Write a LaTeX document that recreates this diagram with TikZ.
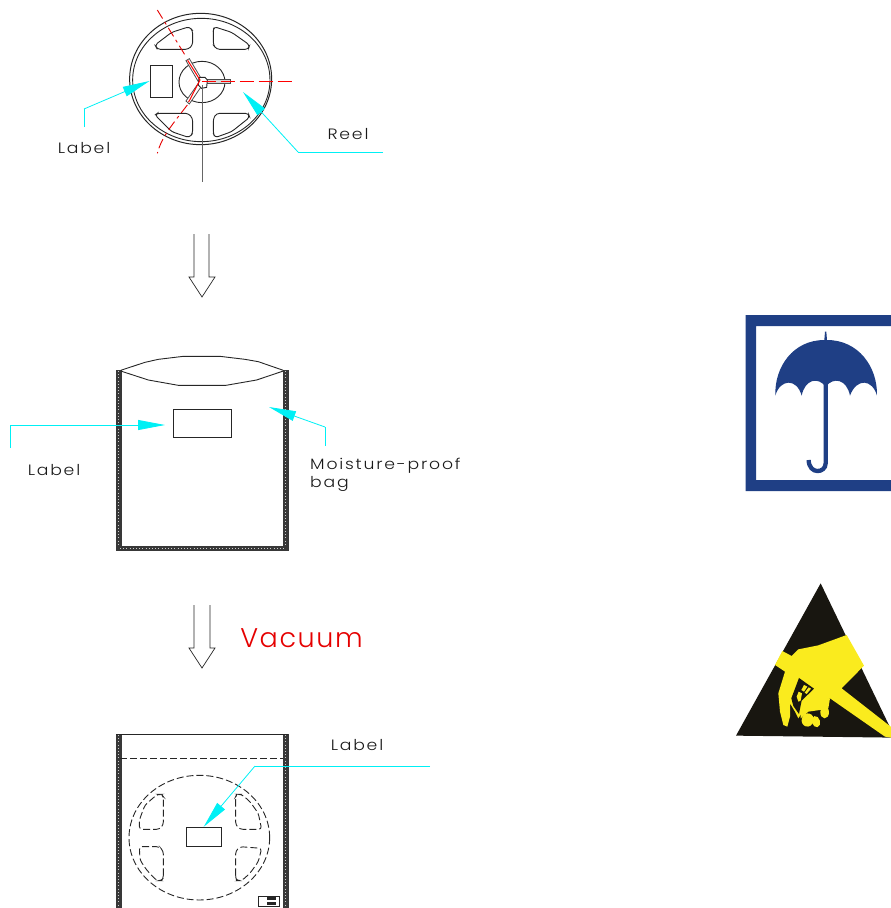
\documentclass[tikz,border=0pt]{standalone}
\usepackage{fontspec}
\setmainfont{Liberation Sans}
\newfontfamily\cadfont[LetterSpace=12,FakeStretch=1.15]{Poppins Light}
\newfontfamily\vacfont[LetterSpace=6]{Poppins Light}
\usetikzlibrary{arrows.meta}
\definecolor{cyanline}{RGB}{0,240,245}
\definecolor{umbblue}{RGB}{31,63,133}
\definecolor{signyellow}{RGB}{250,235,30}
\definecolor{signblack}{RGB}{24,22,16}
\tikzset{
  line/.style={draw=black!85,line width=0.9pt},
  labelbox/.style={draw=black!85,line width=0.9pt,inner sep=0pt,fill=none},
  lead/.style={draw=cyanline,line width=0.8pt,-{Stealth[length=27pt,width=10pt,fill=cyanline,inset=0pt]}},
  txt/.style={font=\cadfont\fontsize{15}{17}\selectfont,text=black!90,inner sep=0pt,align=left},
  downarrow/.style={draw=black!85,line width=0.7pt,fill=white},
  wall/.style={fill=black!78,draw=black!78},
  walldots/.style={draw=black!20,line width=0.8pt,dash pattern=on 0.8pt off 2.4pt},
  redline/.style={draw=red!90!black,line width=0.9pt,dash pattern=on 10pt off 4pt on 3pt off 4pt},
  dashline/.style={draw=black!85,line width=0.9pt,dash pattern=on 7pt off 3pt},
}
\begin{document}
\begin{tikzpicture}[x=1pt,y=-1pt]
\useasboundingbox (0,0) rectangle (891,908);
\begin{scope}
\clip (0,0) rectangle (891,908);

% ---------- Reel ----------
\begin{scope}[shift={(100,0)},x=0.3333pt,y=-0.3333pt]
  \draw[line,line width=1pt] (302,237) ellipse [x radius=213,y radius=197];
  \draw[line] (304,240) ellipse [x radius=206,y radius=185];
  \draw[line] (306,246) ellipse [x radius=69,y radius=62];
  \draw[line,rounded corners=3pt] (165,135)--(215,97)--(268,80)--(278,92)--(278,135)--(265,148)--(172,148)--cycle;
  \draw[line,rounded corners=3pt] (449,135)--(395,97)--(342,80)--(340,92)--(340,135)--(350,148)--(445,148)--cycle;
  \draw[line,rounded corners=3pt] (165,345)--(215,395)--(268,413)--(278,400)--(278,355)--(265,340)--(172,340)--cycle;
  \draw[line,rounded corners=3pt] (449,352)--(395,395)--(345,413)--(340,400)--(340,355)--(350,340)--(445,340)--cycle;
  % spokes
  \draw[draw=black!70,fill=white,line width=0.8pt] (258,182)--(268,176)--(305,238)--(295,245)--cycle;
  \draw[draw=black!70,fill=white,line width=0.8pt] (258,303)--(268,312)--(305,258)--(295,250)--cycle;
  \draw[draw=black!70,fill=black!15,line width=0.8pt] (320,237) rectangle (390,250);
  \draw[line,fill=white] (297,232)--(315,232)--(322,240)--(320,262)--(305,265)--(295,255)--cycle;
  % centre lines
  \draw[redline] (172,30)--(258,170);
  \draw[draw=red,line width=1pt] (263,181)--(300,240)--(266,306);
  \draw[redline] (262,315) .. controls (220,370) and (185,410) .. (172,460);
  \draw[draw=red,line width=0.9pt,dash pattern=on 14pt off 5pt] (305,243)--(585,243);
  \draw[draw=black!60,line width=0.9pt] (306,255)--(306,545);
\end{scope}
\node[labelbox,minimum width=22pt,minimum height=32pt] (reellabel) at (161,81) {};
\coordinate (ra) at (84,127);
\coordinate (rb) at (84,109);
\draw[draw=cyanline,line width=0.8pt] (ra)--(rb);
\draw[lead] (rb)--(reellabel.west);
\coordinate (rc) at (383,152);
\coordinate (rd) at (298,152);
\coordinate (re) at (243,92);
\draw[draw=cyanline,line width=0.8pt] (rc)--(rd);
\draw[lead] (rd)--(re);
\node[txt] (t1) at (84,148.5) {Label};
\node[txt] (t2) at (348,134) {Reel};

% ---------- Down arrows ----------
\draw[downarrow] (194,234)--(194,277)--(189,277)--(202,297)--(215,277)--(209,277)--(209,234);
\draw[downarrow] (194,605)--(194,648)--(189,648)--(202,668)--(215,648)--(210,648)--(210,605);
\node[font=\vacfont\fontsize{27}{30}\selectfont,text=red!90!black,inner sep=0pt] (vac) at (301.5,638) {Vacuum};

% ---------- Open bag ----------
\fill[wall] (116.5,370) rectangle (120.8,550);
\fill[wall] (283.5,370) rectangle (287.8,550);
\fill[wall] (116.5,546) rectangle (287.8,550);
\draw[walldots] (118.6,371)--(118.6,546);
\draw[walldots] (285.6,371)--(285.6,546);
\draw[walldots] (120,548)--(284,548);
\begin{scope}[shift={(100,345)},x=0.3333pt,y=-0.3333pt]
  \draw[line] (62,76)--(135,52)--(175,43)--(250,34)--(360,34)--(435,43)--(475,50)--(550,76);
  \draw[line] (62,78)--(145,105)--(235,121)--(378,121)--(470,105)--(550,78);
\end{scope}
\node[labelbox,minimum width=58pt,minimum height=28pt] (baglabel) at (202,423) {};
\coordinate (ba) at (10,448);
\coordinate (bb) at (10,425);
\coordinate (bt) at (165,425);
\draw[draw=cyanline,line width=0.8pt] (ba)--(bb);
\draw[lead] (bb)--(bt);
\coordinate (bc) at (325,446);
\coordinate (bd) at (325,427);
\coordinate (be) at (269,407);
\draw[draw=cyanline,line width=0.8pt] (bc)--(bd);
\draw[lead] (bd)--(be);
\node[txt] (t3) at (54,470.5) {Label};
\node[txt,anchor=west] (t4) at (310,466) {Moisture-proof};
\node[txt,anchor=west] (t5) at (310,484) {bag};

% ---------- Vacuum bag ----------
\fill[wall] (116,734) rectangle (120.8,908);
\fill[wall] (283,734) rectangle (287.8,908);
\draw[walldots] (118.4,735)--(118.4,908);
\draw[walldots] (285.4,735)--(285.4,908);
\draw[line,line width=1pt] (116,734)--(288,734);
\draw[dashline] (120,758.5)--(283,758.5);
\begin{scope}[shift={(100,725)},x=0.3333pt,y=-0.3333pt]
  \draw[dashline] (298,338) ellipse [x radius=211,y radius=187];
  \draw[dashline,rounded corners=3pt] (190,215)--(190,300)--(178,313)--(118,313)--(118,285)--(135,240)--(172,208)--(185,208)--cycle;
  \draw[dashline,rounded corners=3pt] (407,215)--(407,300)--(420,313)--(485,313)--(475,265)--(450,230)--(425,208)--(410,208)--cycle;
  \draw[dashline,rounded corners=3pt] (190,460)--(190,378)--(178,365)--(118,365)--(120,405)--(140,435)--(170,467)--(185,467)--cycle;
  \draw[dashline,rounded corners=3pt] (407,460)--(407,378)--(420,365)--(485,370)--(475,410)--(450,445)--(425,467)--(410,467)--cycle;
  \draw[draw=black!85,line width=0.7pt] (475,515) rectangle (538,545);
  \fill[black!85] (500,517) rectangle (528,525);
  \fill[black!85] (500,530) rectangle (528,540);
\end{scope}
\node[labelbox,minimum width=35.5pt,minimum height=19.5pt] (vaclabel) at (203.7,837) {};
\coordinate (va) at (430,766);
\coordinate (vb) at (255,766);
\draw[draw=cyanline,line width=0.8pt] (va)--(vb);
\draw[lead] (vb)--(vaclabel.north);
\node[txt] (t6) at (357,745.5) {Label};

% ---------- Keep-dry sign ----------
\fill[umbblue,even odd rule] (745.5,315) rectangle (900,491) (756,326) rectangle (900,480);
\begin{scope}[shift={(735,305)},x=0.3333pt,y=-0.3333pt]
  \fill[umbblue] (268,105) -- (270,80) -- (274,80) -- (276,105)
    .. controls (370,105) and (428,185) .. (426,272)
    .. controls (412,222) and (365,218) .. (345,272)
    .. controls (335,222) and (295,215) .. (272,245)
    .. controls (250,215) and (210,222) .. (200,272)
    .. controls (185,218) and (135,222) .. (121,272)
    .. controls (118,185) and (175,105) .. (268,105) -- cycle;
  \draw[umbblue,line width=4.3pt] (272,235) -- (272,475) .. controls (272,505) and (222,510) .. (221,465);
\end{scope}

% ---------- ESD sign ----------
\begin{scope}[shift={(730,570)},x=0.3333pt,y=-0.3333pt]
  \fill[signblack] (272,40)--(18,497)--(495,503)--cycle;
  \fill[signyellow] (157,243)--(185,258)--(205,238)--(265,226)--(350,195)--(402,287)--(335,355)--(495,480)--(495,505)--(465,500)--(300,385)--(215,430)--(205,445)--(195,425)--(180,400)--(180,440)--(172,470)--(160,465)--(150,425)--(145,370)--(165,305)--(135,285)--cycle;
  \fill[signyellow] (284,427) ellipse [x radius=13,y radius=18];
  \fill[signyellow,rotate around={15:(258,455)}] (258,455) ellipse [x radius=12,y radius=17];
  \fill[signyellow,rotate around={-15:(233,450)}] (233,450) ellipse [x radius=18,y radius=20];
  \fill[signyellow] (210,400)--(300,385)--(295,415)--(270,420)--(235,425)--(212,445)--cycle;
  \fill[signblack] (207,324)--(252,356)--(215,392)--(207,432)--(190,408)--(184,385)--cycle;
  \fill[signyellow] (222,345)--(232,350)--(222,365)--(214,360)--cycle;
  \fill[signyellow] (236,352)--(243,356)--(230,372)--(224,368)--cycle;
  \fill[signyellow] (206,365)--(216,370)--(212,392)--(205,395)--(200,380)--cycle;
\end{scope}
\end{scope}
\end{tikzpicture}
\end{document}
